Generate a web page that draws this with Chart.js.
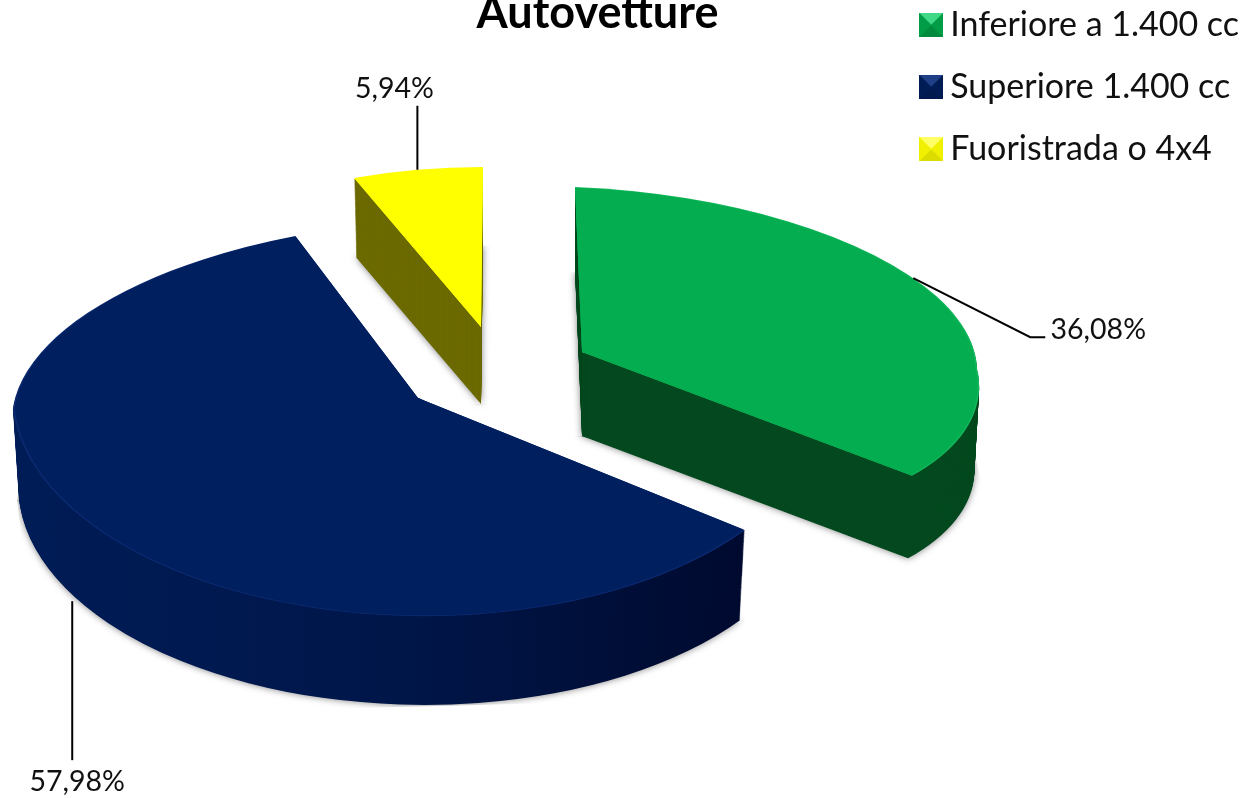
<!DOCTYPE html>
<html>
<head>
<meta charset="utf-8">
<title>Autovetture</title>
<script src="https://cdn.jsdelivr.net/npm/chart.js@4/dist/chart.umd.js"></script>
<style>
  html, body { margin: 0; padding: 0; background: #fff; overflow: hidden; }
  #wrap { width: 1247px; height: 798px; }
</style>
</head>
<body>
<div id="wrap"><canvas id="chart"></canvas></div>
<script>
const titleText = 'Autovetture';
const categories = ['Inferiore a 1.400 cc', 'Superiore 1.400 cc', 'Fuoristrada o 4x4'];
const shares = [36.08, 57.98, 5.94];
const shareLabels = ['36,08%', '57,98%', '5,94%'];

const topColors = ['#04ad50', '#001f5f', '#ffff00'];
const rimColors = ['#14b85c', '#0c2b72', '#ffff00'];
const wallColors = ['#04491f', null, '#6b6a00'];
const legendColors = [['#00a84c', '#3fd988', '#008a3e', '#009c46'], ['#002060', '#1f3f86', '#001a50', '#001c55'], ['#ffff00', '#ffff66', '#dcdc00', '#f0f000']];

const FONT = 'Lato, Carlito, sans-serif';
const RADIUS = 400;

// each slice is flattened on its own: apex on the page, then x/y basis above and below the apex line
const sliceViews = [
  { apex: [582, 352], depth: 84, shrink: 0.012, up: [0.9875, 0.04, 0.0175, 0.4125], down: [0.9875, 0.04, 0.105, 0.435] },
  { apex: [418, 398], depth: 92, shrink: 0.015, up: [1.0125, -0.025, -0.067, 0.445], down: [1.0125, -0.025, 0.063, 0.545] },
  { apex: [481, 327], depth: 77, shrink: 0.015, up: [0.883, 0, -0.005, 0.4], down: [0.883, 0, -0.005, 0.4] },
];
const drawOrder = [2, 0, 1];

// where the leader line leaves each slice, then its bends and the text, relative to that point
const leaders = [
  { angle: 58, wallDrop: 0, path: [[117, 59], [132, 59]], text: [185, 52] },
  { angle: 242, wallDrop: 1, path: [[0, 159]], text: [5, 181] },
  { angle: 349.3, wallDrop: 0, path: [[0, -64]], text: [-23, -81] },
];

function placeSlice(ctx, arc, view, basis, drop, shrink) {
  const s = 1 - shrink;
  ctx.translate(view.apex[0], view.apex[1] + drop);
  ctx.transform(basis[0] * s, basis[1] * s, basis[2] * s, basis[3] * s, 0, 0);
  ctx.translate(-arc.x, -arc.y);
}

function paintSlice(ctx, arc, view, drop, shrink, fill) {
  const stand = Object.create(arc);
  stand.options = { ...arc.options, backgroundColor: fill, borderWidth: 0 };
  [[view.up, -RADIUS - 2, RADIUS + 5], [view.down, 0, RADIUS + 2]].forEach(([basis, top, height]) => {
    ctx.save();
    placeSlice(ctx, arc, view, basis, drop, shrink);
    ctx.beginPath();
    ctx.rect(arc.x - RADIUS - 2, arc.y + top, 2 * RADIUS + 4, height);
    ctx.clip();
    stand.draw(ctx);
    ctx.restore();
  });
}

function navyWall(ctx, arc) {
  const g = ctx.createLinearGradient(arc.x - RADIUS, 0, arc.x + RADIUS, 0);
  g.addColorStop(0, '#001c56');
  g.addColorStop(0.45, '#001649');
  g.addColorStop(0.8, '#000c33');
  g.addColorStop(1, '#00072a');
  return g;
}

const slabPie = {
  id: 'slabPie',
  afterLayout(chart) {
    const t = chart.titleBlock;
    t.left = 350; t.right = 845; t.top = -13.6; t.bottom = 40;
    const l = chart.legend;
    l.top -= 20; l.bottom -= 20;
    l.left += 2; l.right += 2;
  },
  beforeDatasetDraw(chart) {
    const ctx = chart.ctx;
    const arcs = chart.getDatasetMeta(0).data;
    drawOrder.forEach((i) => {
      const arc = arcs[i];
      const view = sliceViews[i];
      const wall = wallColors[i] || navyWall(ctx, arc);
      ctx.save();
      ctx.shadowColor = 'rgba(60,60,60,0.65)';
      ctx.shadowBlur = 7;
      paintSlice(ctx, arc, view, view.depth, view.shrink, wall);
      ctx.restore();
      for (let d = view.depth - 1; d > 0; d--) {
        paintSlice(ctx, arc, view, d, view.shrink * d / view.depth, wall);
      }
      paintSlice(ctx, arc, view, 0, 0, rimColors[i]);
      paintSlice(ctx, arc, view, 0, 0.004, topColors[i]);
    });
    return false;
  },
  afterDatasetsDraw(chart) {
    const ctx = chart.ctx;
    ctx.save();
    ctx.strokeStyle = '#000';
    ctx.lineWidth = 2;
    ctx.fillStyle = '#111';
    ctx.font = '28.5px ' + FONT;
    ctx.textAlign = 'center';
    ctx.textBaseline = 'middle';
    leaders.forEach((leader, i) => {
      const view = sliceViews[i];
      const rad = leader.angle * Math.PI / 180;
      const x = RADIUS * Math.sin(rad);
      const y = -RADIUS * Math.cos(rad);
      const b = y < 0 ? view.up : view.down;
      const ax = view.apex[0] + b[0] * x + b[2] * y;
      const ay = view.apex[1] + b[1] * x + b[3] * y + leader.wallDrop * view.depth;
      ctx.beginPath();
      ctx.moveTo(ax, ay);
      leader.path.forEach((p) => ctx.lineTo(ax + p[0], ay + p[1]));
      ctx.stroke();
      ctx.fillText(shareLabels[i], ax + leader.text[0], ay + leader.text[1]);
    });
    ctx.restore();
  },
};

function bevelBox(colors) {
  const c = document.createElement('canvas');
  c.width = 24; c.height = 24;
  const g = c.getContext('2d');
  g.fillStyle = colors[0];
  g.fillRect(0, 0, 24, 24);
  [[[0, 0], [24, 0], colors[1]], [[0, 24], [24, 24], colors[2]], [[0, 0], [0, 24], colors[3]], [[24, 0], [24, 24], colors[3]]].forEach(([p, q, col]) => {
    g.fillStyle = col;
    g.beginPath();
    g.moveTo(p[0], p[1]);
    g.lineTo(q[0], q[1]);
    g.lineTo(12, 12);
    g.fill();
  });
  return c;
}
const legendBoxes = legendColors.map(bevelBox);

new Chart(document.getElementById('chart'), {
  type: 'pie',
  data: {
    labels: categories,
    datasets: [{ data: shares, backgroundColor: topColors, borderWidth: 0 }],
  },
  options: {
    responsive: true,
    maintainAspectRatio: false,
    animation: false,
    radius: RADIUS,
    rotation: 0,
    plugins: {
      tooltip: { enabled: false },
      title: {
        display: true,
        text: titleText,
        color: '#000',
        font: { family: FONT, size: 45, weight: 'bold' },
        padding: 0,
      },
      legend: {
        position: 'right',
        align: 'start',
        labels: {
          color: '#111',
          font: { family: FONT, size: 34 },
          padding: 28,
          usePointStyle: true,
          pointStyleWidth: 4,
          generateLabels(chart) {
            const items = Chart.overrides.doughnut.plugins.legend.labels.generateLabels(chart);
            items.forEach((item, i) => { item.pointStyle = legendBoxes[i]; });
            return items;
          },
        },
      },
    },
  },
  plugins: [slabPie],
});
</script>
</body>
</html>
